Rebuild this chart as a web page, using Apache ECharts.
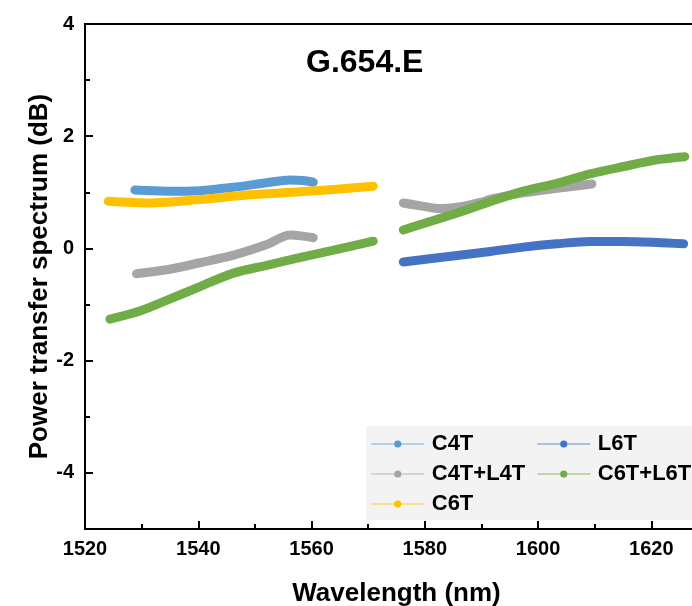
<!DOCTYPE html>
<html>
<head>
<meta charset="utf-8">
<script src="https://cdn.jsdelivr.net/npm/echarts@6/dist/echarts.min.js"></script>
<style>
  html, body { margin: 0; padding: 0; background: #fff; }
  #chart { width: 692px; height: 606px; }
</style>
</head>
<body>
<div id="chart"></div>
<script>
// wavelength (nm), power transfer (dB); '-' splits the C band and L band parts
var c4t = [[1528.8, 1.04], [1534.4, 1.02], [1540.3, 1.03], [1546.1, 1.09], [1552.1, 1.17], [1556.2, 1.22], [1558.5, 1.21], [1560.3, 1.18]];
var c4tL4t = [[1529.1, -0.45], [1534.4, -0.38], [1540.3, -0.255], [1546.2, -0.12], [1552.1, 0.07], [1556.2, 0.24], [1558.5, 0.22], [1560.3, 0.19],
  [1573, '-'],
  [1576.2, 0.81], [1579.8, 0.75], [1582.7, 0.71], [1585.7, 0.735], [1590.4, 0.836], [1591.6, 0.88], [1597.4, 0.99], [1603.3, 1.07], [1609.5, 1.15]];
var c6t = [[1524.1, 0.84], [1531.5, 0.81], [1540.3, 0.87], [1549.1, 0.955], [1557.9, 1.01], [1565.0, 1.06], [1570.9, 1.11]];
var l6t = [[1576.2, -0.24], [1585.7, -0.125], [1591.6, -0.053], [1597.4, 0.024], [1603.3, 0.083], [1609.2, 0.125], [1615.1, 0.125], [1621.0, 0.107], [1625.7, 0.083]];
var c6tL6t = [[1524.4, -1.26], [1529.7, -1.115], [1534.4, -0.925], [1540.3, -0.68], [1546.2, -0.44], [1552.1, -0.3], [1557.9, -0.165], [1565.1, -0.005], [1570.9, 0.13],
  [1573, '-'],
  [1576.2, 0.33], [1585.7, 0.63], [1591.6, 0.836], [1597.4, 1.02], [1603.3, 1.16], [1609.2, 1.33], [1615.1, 1.46], [1621.0, 1.58], [1625.9, 1.635]];

var xMajor = [1520, 1540, 1560, 1580, 1600, 1620];
var xMinor = [1530, 1550, 1570, 1590, 1610];
var yMajor = [-4, -2, 0, 2, 4];
var yMinor = [-3, -1, 1, 3];

var FONT = 'Liberation Sans, Arial, sans-serif';

var myChart = echarts.init(document.getElementById('chart'));

function lineSeries(name, data, color) {
    return {
        name: name,
        type: 'line',
        data: data,
        smooth: 0.3,
        symbol: 'circle',
        symbolSize: 9,
        showSymbol: false,
        connectNulls: false,
        color: color,
        lineStyle: { width: 9, cap: 'round', join: 'round', color: color },
        itemStyle: { color: color }
    };
}

var legendCommon = {
    orient: 'vertical',
    top: 433,
    itemWidth: 52,
    itemHeight: 9,
    itemGap: 8,
    padding: 0,
    lineStyle: { width: 1.5, opacity: 0.55 },
    textStyle: { fontFamily: FONT, fontSize: 22, fontWeight: 'bold', color: '#000', padding: [0, 0, 0, 3] }
};

function plainNum(v) {
    return String(v);
}

myChart.setOption({
    animation: false,
    title: {
        text: 'G.654.E',
        left: 301,
        top: 42,
        textStyle: { fontFamily: FONT, fontSize: 32, fontWeight: 'bold', color: '#000' }
    },
    graphic: [{
        type: 'rect',
        shape: { x: 366, y: 426, width: 340, height: 94 },
        style: { fill: '#f3f3f3' },
        z: 0
    }],
    legend: [
        Object.assign({ left: 371, data: ['C4T', 'C4T+L4T', 'C6T'] }, legendCommon),
        Object.assign({ left: 537, data: ['L6T', 'C6T+L6T'] }, legendCommon)
    ],
    grid: {
        left: 85,
        top: 24,
        bottom: 77,
        right: -16,
        outerBoundsMode: 'none',
        show: true,
        borderColor: '#000',
        borderWidth: 2,
        containLabel: false
    },
    xAxis: [
        {
            type: 'value',
            min: 1520,
            max: 1630,
            name: 'Wavelength (nm)',
            nameLocation: 'middle',
            nameGap: 52,
            nameMoveOverlap: false,
            nameTextStyle: { fontFamily: FONT, fontSize: 26, fontWeight: 'bold', color: '#000' },
            axisLine: { onZero: false, lineStyle: { color: '#000', width: 2 } },
            axisTick: { inside: true, length: 8, customValues: xMajor, lineStyle: { color: '#000', width: 2 } },
            axisLabel: { customValues: xMajor, formatter: plainNum, margin: 10, fontFamily: FONT, fontSize: 20, fontWeight: 'bold', color: '#000' },
            splitLine: { show: false }
        },
        {
            type: 'value',
            position: 'bottom',
            min: 1520,
            max: 1630,
            axisLine: { show: false, onZero: false },
            axisTick: { inside: true, length: 5, customValues: xMinor, lineStyle: { color: '#000', width: 2 } },
            axisLabel: { show: false },
            splitLine: { show: false }
        }
    ],
    yAxis: [
        {
            type: 'value',
            min: -5,
            max: 4,
            name: 'Power transfer spectrum (dB)',
            nameLocation: 'middle',
            nameGap: 32,
            nameMoveOverlap: false,
            nameTextStyle: { fontFamily: FONT, fontSize: 26, fontWeight: 'bold', color: '#000' },
            axisLine: { show: true, onZero: false, lineStyle: { color: '#000', width: 2 } },
            axisTick: { show: true, inside: true, length: 8, customValues: yMajor, lineStyle: { color: '#000', width: 2 } },
            axisLabel: { customValues: yMajor, formatter: plainNum, margin: 11, fontFamily: FONT, fontSize: 20, fontWeight: 'bold', color: '#000' },
            splitLine: { show: false }
        },
        {
            type: 'value',
            position: 'left',
            min: -5,
            max: 4,
            axisLine: { show: false, onZero: false },
            axisTick: { show: true, inside: true, length: 5, customValues: yMinor, lineStyle: { color: '#000', width: 2 } },
            axisLabel: { show: false },
            splitLine: { show: false }
        }
    ],
    series: [
        lineSeries('C4T', c4t, '#5B9BD5'),
        lineSeries('C4T+L4T', c4tL4t, '#A5A5A5'),
        lineSeries('C6T', c6t, '#FFC000'),
        lineSeries('L6T', l6t, '#4472C4'),
        lineSeries('C6T+L6T', c6tL6t, '#70AD47')
    ]
});
</script>
</body>
</html>
